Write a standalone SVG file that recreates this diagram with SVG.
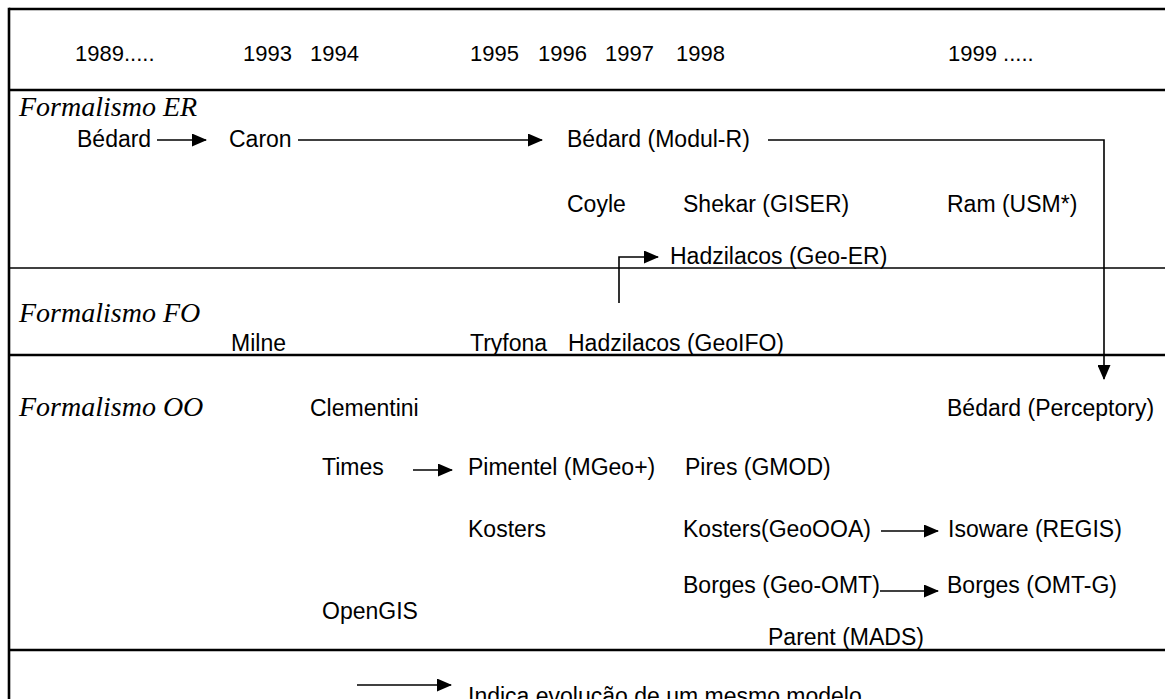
<svg xmlns="http://www.w3.org/2000/svg" width="1165" height="699" viewBox="0 0 1165 699">
  <style>
    .frame { stroke: #000; stroke-width: 2.6; fill: none; }
    .thin { stroke: #000; stroke-width: 1.3; fill: none; }
    .conn { stroke: #000; stroke-width: 1.6; fill: none; }
    .lbl { font-family: "Liberation Sans", Arial, sans-serif; font-size: 23px; fill: #000; }
    .yr { font-family: "Liberation Sans", Arial, sans-serif; font-size: 22px; fill: #000; }
    .sec { font-family: "Liberation Serif", "Times New Roman", serif; font-style: italic; font-size: 28px; fill: #000; }
  </style>
  <defs>
    <marker id="arrow" markerUnits="userSpaceOnUse" markerWidth="15" markerHeight="13" refX="14" refY="6.5" orient="auto">
      <path d="M0,0 L15,6.5 L0,13 Z" fill="#000"/>
    </marker>
  </defs>
  <rect width="1165" height="699" fill="#fff"/>

  <!-- table frame and section rules -->
  <g id="frame">
    <line class="frame" x1="9" y1="9" x2="1165" y2="9"/>
    <line class="frame" x1="9" y1="7.7" x2="9" y2="699"/>
    <line class="frame" x1="9" y1="90" x2="1165" y2="90"/>
    <line class="thin" x1="9" y1="268" x2="1165" y2="268"/>
    <line class="frame" x1="9" y1="355" x2="1165" y2="355"/>
    <line class="frame" x1="9" y1="650" x2="1165" y2="650"/>
  </g>

  <!-- year header -->
  <g id="years">
    <text class="yr" x="75" y="61">1989.....</text>
    <text class="yr" x="243" y="61">1993</text>
    <text class="yr" x="310" y="61">1994</text>
    <text class="yr" x="470" y="61">1995</text>
    <text class="yr" x="538" y="61">1996</text>
    <text class="yr" x="605" y="61">1997</text>
    <text class="yr" x="676" y="61">1998</text>
    <text class="yr" x="948" y="61">1999 .....</text>
  </g>

  <!-- section titles -->
  <g id="sections">
    <text class="sec" x="19" y="116">Formalismo ER</text>
    <text class="sec" x="19" y="322">Formalismo FO</text>
    <text class="sec" x="19" y="416">Formalismo OO</text>
  </g>

  <!-- ER models -->
  <g id="n-bedard"><text class="lbl" x="77" y="147">Bédard</text></g>
  <g id="n-caron"><text class="lbl" x="229" y="147">Caron</text></g>
  <g id="n-modulr"><text class="lbl" x="567" y="147">Bédard (Modul-R)</text></g>
  <g id="n-coyle"><text class="lbl" x="567" y="212">Coyle</text></g>
  <g id="n-shekar"><text class="lbl" x="683" y="212">Shekar (GISER)</text></g>
  <g id="n-ram"><text class="lbl" x="947" y="212">Ram (USM*)</text></g>
  <g id="n-geoer"><text class="lbl" x="670" y="264">Hadzilacos (Geo-ER)</text></g>

  <!-- FO models -->
  <g id="n-milne"><text class="lbl" x="231" y="351">Milne</text></g>
  <g id="n-tryfona"><text class="lbl" x="470" y="351">Tryfona</text></g>
  <g id="n-geoifo"><text class="lbl" x="568" y="351">Hadzilacos (GeoIFO)</text></g>

  <!-- OO models -->
  <g id="n-clementini"><text class="lbl" x="310" y="416">Clementini</text></g>
  <g id="n-perceptory"><text class="lbl" x="947" y="416">Bédard (Perceptory)</text></g>
  <g id="n-times"><text class="lbl" x="322" y="475">Times</text></g>
  <g id="n-mgeo"><text class="lbl" x="468" y="475">Pimentel (MGeo+)</text></g>
  <g id="n-gmod"><text class="lbl" x="685" y="475">Pires (GMOD)</text></g>
  <g id="n-kosters"><text class="lbl" x="468" y="537">Kosters</text></g>
  <g id="n-geoooa"><text class="lbl" x="683" y="537">Kosters(GeoOOA)</text></g>
  <g id="n-regis"><text class="lbl" x="948" y="537">Isoware (REGIS)</text></g>
  <g id="n-geoomt"><text class="lbl" x="683" y="593">Borges (Geo-OMT)</text></g>
  <g id="n-omtg"><text class="lbl" x="947" y="593">Borges (OMT-G)</text></g>
  <g id="n-opengis"><text class="lbl" x="322" y="619">OpenGIS</text></g>
  <g id="n-mads"><text class="lbl" x="768" y="645">Parent (MADS)</text></g>

  <!-- legend -->
  <g id="legend">
    <line class="conn" x1="357" y1="685" x2="451" y2="685" marker-end="url(#arrow)"/>
    <text class="lbl" x="468" y="704">Indica evolução de um mesmo modelo</text>
  </g>

  <!-- evolution connectors -->
  <g id="connectors">
    <line class="conn" x1="157" y1="140" x2="206" y2="140" marker-end="url(#arrow)"/>
    <line class="conn" x1="298" y1="140" x2="542" y2="140" marker-end="url(#arrow)"/>
    <polyline class="conn" points="768,140 1104,140 1104,379" marker-end="url(#arrow)"/>
    <polyline class="conn" points="619,303 619,257 658,257" marker-end="url(#arrow)"/>
    <line class="conn" x1="413" y1="470" x2="452" y2="470" marker-end="url(#arrow)"/>
    <line class="conn" x1="881" y1="531" x2="938" y2="531" marker-end="url(#arrow)"/>
    <line class="conn" x1="880" y1="591" x2="938" y2="591" marker-end="url(#arrow)"/>
  </g>
</svg>
